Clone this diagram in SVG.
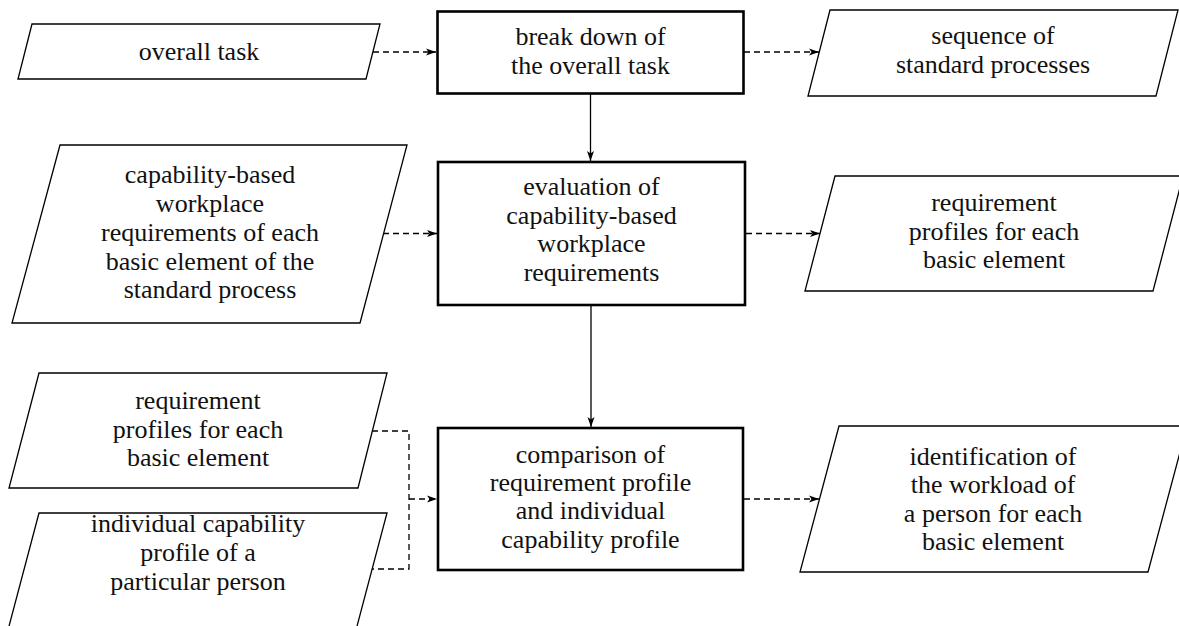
<svg xmlns="http://www.w3.org/2000/svg" width="1179" height="626" viewBox="0 0 1179 626">
<style>
.para{fill:#fff;stroke:#000;stroke-width:1.3}
.box{fill:#fff;stroke:#000;stroke-width:2.6}
text{font-family:"Liberation Serif","Times New Roman",serif;font-size:26px;fill:#111;text-anchor:middle}
.solid{fill:none;stroke:#000;stroke-width:1.3}
.dash{fill:none;stroke:#000;stroke-width:1.3;stroke-dasharray:6 4}
</style>
<defs>
<marker id="ah" markerUnits="userSpaceOnUse" markerWidth="10" markerHeight="8" refX="10" refY="4" orient="auto" overflow="visible">
<path d="M0,0.5 L10,4 L0,7.5 L2.5,4 Z" fill="#000"/>
</marker>
</defs>
<rect width="1179" height="626" fill="#fff"/>

<g id="connectors">
<path class="dash" d="M373,52 H436" marker-end="url(#ah)"/>
<path class="dash" d="M744,52 H819" marker-end="url(#ah)"/>
<path class="solid" d="M590.5,94 V161" marker-end="url(#ah)"/>
<path class="dash" d="M383,233.5 H437" marker-end="url(#ah)"/>
<path class="dash" d="M746,233.5 H820" marker-end="url(#ah)"/>
<path class="solid" d="M591,306 V427" marker-end="url(#ah)"/>
<path class="dash" d="M372,431 H409 V569 H372"/>
<path class="dash" d="M409,499 H437" marker-end="url(#ah)"/>
<path class="dash" d="M744,499 H819" marker-end="url(#ah)"/>
</g>

<g id="overall-task">
<polygon class="para" points="32,24 380,24 366,79 18,79"/>
<text x="199" y="60">overall task</text>
</g>

<g id="break-down">
<rect class="box" x="437.5" y="11.5" width="306" height="82"/>
<text x="590.5" y="45">break down of</text>
<text x="590.5" y="74">the overall task</text>
</g>

<g id="sequence">
<polygon class="para" points="830,10 1178,10 1156,96 808,96"/>
<text x="993" y="44">sequence of</text>
<text x="993" y="73">standard processes</text>
</g>

<g id="capability-requirements">
<polygon class="para" points="60,145 407,145 360,323 12,323"/>
<text x="210" y="183">capability-based</text>
<text x="210" y="212">workplace</text>
<text x="210" y="241">requirements of each</text>
<text x="210" y="270">basic element of the</text>
<text x="210" y="298">standard process</text>
</g>

<g id="evaluation">
<rect class="box" x="438" y="162" width="307" height="143"/>
<text x="591.5" y="195">evaluation of</text>
<text x="591.5" y="224">capability-based</text>
<text x="591.5" y="252">workplace</text>
<text x="591.5" y="281">requirements</text>
</g>

<g id="requirement-profiles-out">
<polygon class="para" points="835,176 1183,176 1153,291 805,291"/>
<text x="994" y="211">requirement</text>
<text x="994" y="240">profiles for each</text>
<text x="994" y="268">basic element</text>
</g>

<g id="requirement-profiles-in">
<polygon class="para" points="39,373 387,373 358,488 9,488"/>
<text x="198" y="409">requirement</text>
<text x="198" y="438">profiles for each</text>
<text x="198" y="466">basic element</text>
</g>

<g id="individual-profile">
<polygon class="para" points="39,513 387,513 356,630 8,630"/>
<text x="198" y="532">individual capability</text>
<text x="198" y="561">profile of a</text>
<text x="198" y="590">particular person</text>
</g>

<g id="comparison">
<rect class="box" x="438" y="428" width="305" height="142"/>
<text x="590.5" y="463">comparison of</text>
<text x="590.5" y="491">requirement profile</text>
<text x="590.5" y="519">and individual</text>
<text x="590.5" y="548">capability profile</text>
</g>

<g id="identification">
<polygon class="para" points="839,426 1187,426 1148,572 800,572"/>
<text x="993" y="465">identification of</text>
<text x="993" y="493">the workload of</text>
<text x="993" y="522">a person for each</text>
<text x="993" y="550">basic element</text>
</g>
</svg>
